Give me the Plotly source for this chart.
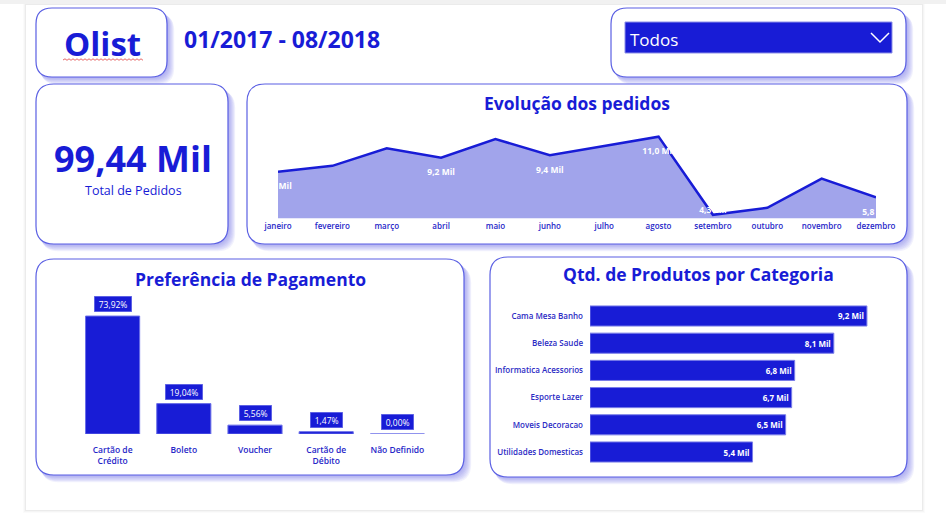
import plotly.graph_objects as go

# ---------------- data ----------------
months = ["janeiro", "fevereiro", "março", "abril", "maio", "junho",
          "julho", "agosto", "setembro", "outubro", "novembro", "dezembro"]
orders_mil = [8.0, 8.5, 10.0, 9.2, 10.8, 9.4, 10.2, 11.0, 4.3, 4.9, 7.4, 5.8]
month_label_pos = {"janeiro": "bottom center", "abril": "bottom center",
                   "junho": "bottom center", "agosto": "bottom center",
                   "setembro": "top center", "dezembro": "bottom center"}

payment_methods = ["Cartão de<br>Crédito", "Boleto", "Voucher",
                   "Cartão de<br>Débito", "Não Definido"]
payment_pct = [73.92, 19.04, 5.56, 1.47, 0.003]  # last one shows as 0,00%

categories = ["Cama Mesa Banho", "Beleza Saude", "Informatica Acessorios",
              "Esporte Lazer", "Moveis Decoracao", "Utilidades Domesticas"]
products_mil = [9.2, 8.1, 6.8, 6.7, 6.5, 5.4]

total_orders_mil = 99.44
period_text = "01/2017 - 08/2018"
filter_text = "Todos"

# ---------------- style ----------------
W, H = 946, 525
BLUE = "#181cd6"
AREA = "#a1a4eb"
BORDER = "#5a5fe3"
FONT = "Open Sans"


def X(px):
    return px / W


def Y(py):
    return 1 - py / H


def rrect(x0, y0, x1, y1, r):
    pts = [
        ("M", (x0 + r, y0)), ("L", (x1 - r, y0)), ("Q", (x1, y0), (x1, y0 + r)),
        ("L", (x1, y1 - r)), ("Q", (x1, y1), (x1 - r, y1)), ("L", (x0 + r, y1)),
        ("Q", (x0, y1), (x0, y1 - r)), ("L", (x0, y0 + r)), ("Q", (x0, y0), (x0 + r, y0)),
    ]
    s = ""
    for p in pts:
        s += p[0] + " " + " ".join(f"{X(a):.5f},{Y(b):.5f}" for a, b in p[1:]) + " "
    return s + "Z"


def fmt(v, dec=1):
    return f"{v:.{dec}f}".replace(".", ",")


shapes = []
annotations = []

# page shadow
for k, a in [(3, 0.015), (2, 0.025), (1, 0.04)]:
    shapes.append(dict(type="rect", xref="paper", yref="paper",
                       x0=X(26 - k), x1=X(922 + k), y0=Y(510 + k), y1=Y(5 - k),
                       line=dict(width=0), fillcolor=f"rgba(0,0,0,{a})", layer="below"))
shapes.append(dict(type="rect", xref="paper", yref="paper", x0=0, x1=1, y0=Y(4), y1=1,
                   line=dict(width=0), fillcolor="#f1f1f1", layer="below"))
shapes.append(dict(type="rect", xref="paper", yref="paper",
                   x0=X(26), x1=X(922), y0=Y(510), y1=Y(5),
                   line=dict(width=0), fillcolor="white", layer="below"))

panels = [(36, 8, 167, 77, 16), (611, 8, 906, 77, 16), (36, 84, 228, 244, 18),
          (247, 84, 907, 244, 18), (36, 259, 464, 475, 18), (490, 257, 907, 477, 18)]
for (x0, y0, x1, y1, r) in panels:
    for k in range(8, 0, -1):
        shapes.append(dict(type="path", xref="paper", yref="paper",
                           path=rrect(x0 + k * 0.6, y0 + k * 0.8, x1 + k * 0.9, y1 + k * 0.9, r),
                           line=dict(width=0), fillcolor="rgba(110,115,235,0.09)", layer="below"))
for (x0, y0, x1, y1, r) in panels:
    shapes.append(dict(type="path", xref="paper", yref="paper", path=rrect(x0, y0, x1, y1, r),
                       line=dict(color=BORDER, width=1.2), fillcolor="white", layer="below"))

# dropdown box + chevron
shapes.append(dict(type="rect", xref="paper", yref="paper", x0=X(625), x1=X(892), y0=Y(53), y1=Y(22),
                   line=dict(color="#8c8fe8", width=1), fillcolor=BLUE, layer="below"))
shapes.append(dict(type="path", xref="paper", yref="paper",
                   path=f"M {X(871)},{Y(33)} L {X(880)},{Y(42)} L {X(889)},{Y(33)}",
                   line=dict(color="white", width=1.5)))

# spell-check wavy underline under "Olist"
wave = f"M {X(63)},{Y(60)}"
xx = 63
up = True
while xx < 142:
    xx += 2
    wave += f" L {X(xx)},{Y(58.8 if up else 60.3)}"
    up = not up
shapes.append(dict(type="path", xref="paper", yref="paper", path=wave,
                   line=dict(color="#e04040", width=0.8)))


def txt(x, y, s, size, color=BLUE, weight="bold", xanchor="center"):
    annotations.append(dict(xref="paper", yref="paper", x=X(x), y=Y(y), text=s, showarrow=False,
                            xanchor=xanchor, yanchor="middle",
                            font=dict(family=FONT, size=size, color=color, weight=weight)))


txt(102, 43, "Olist", 33)
txt(182, 39, period_text, 23, xanchor="left")
txt(628, 40, filter_text, 17, color="white", weight="normal", xanchor="left")
txt(133, 158, fmt(total_orders_mil, 2) + " Mil", 36)
txt(133, 190, "Total de Pedidos", 12.5, weight="normal")
txt(577, 103, "Evolução dos pedidos", 17.5)
txt(250, 279, "Preferência de Pagamento", 17.5)
txt(698, 274, "Qtd. de Produtos por Categoria", 17.5)

fig = go.Figure()

# ---------------- area chart ----------------
area_text = []
for m, v in zip(months, orders_mil):
    pos = month_label_pos.get(m)
    if pos is None:
        area_text.append("")
    elif pos.startswith("bottom"):
        area_text.append("<br>" + fmt(v) + " Mil")
    else:
        area_text.append(fmt(v) + " Mil")
area_pos = [month_label_pos.get(m, "bottom center") for m in months]
fig.add_trace(go.Scatter(
    x=months, y=orders_mil, mode="lines+text", fill="tozeroy", fillcolor=AREA,
    line=dict(color=BLUE, width=2.5), text=area_text, textposition=area_pos,
    textfont=dict(family=FONT, size=8.5, color="white", weight="bold"),
    cliponaxis=True, hoverinfo="skip", xaxis="x", yaxis="y"))

# ---------------- payment bars ----------------
fig.add_trace(go.Bar(
    x=payment_methods, y=payment_pct, marker=dict(color=BLUE, line=dict(color="#6a6ee8", width=1)),
    width=0.76, xaxis="x2", yaxis="y2", hoverinfo="skip"))
for m, v in zip(payment_methods, payment_pct):
    annotations.append(dict(xref="x2", yref="y2", x=m, y=v,
                            text="&nbsp;" + fmt(v, 2) + "%&nbsp;", showarrow=False,
                            yanchor="bottom", yshift=4, bgcolor=BLUE, borderpad=2,
                            bordercolor="#6a6ee8", borderwidth=0.5,
                            font=dict(family=FONT, size=8.5, color="white")))

# ---------------- category bars ----------------
fig.add_trace(go.Bar(
    y=categories, x=products_mil, orientation="h",
    marker=dict(color=BLUE, line=dict(color="#7a7ee8", width=1)), width=0.74,
    text=[fmt(v) + " Mil" for v in products_mil], textposition="inside", insidetextanchor="end",
    textfont=dict(family=FONT, size=8, color="white", weight="bold"),
    xaxis="x3", yaxis="y3", hoverinfo="skip"))

hidden = dict(showgrid=False, zeroline=False, showticklabels=False, showline=False, ticks="",
              automargin=False)

fig.update_layout(
    width=W, height=H, margin=dict(l=0, r=0, t=0, b=0, autoexpand=False), showlegend=False,
    paper_bgcolor="white", plot_bgcolor="rgba(0,0,0,0)",
    font=dict(family=FONT, color=BLUE),
    shapes=shapes, annotations=annotations,
    xaxis=dict(domain=[X(278), X(876)], range=[0, 11], type="category", showgrid=False,
               zeroline=False, showline=False, ticks="", automargin=False, ticklabelstandoff=2,
               tickfont=dict(family=FONT, size=8, color="#2626c8", weight=600)),
    yaxis=dict(domain=[Y(218.3), Y(125)], range=[4.0, 12.0], **hidden),
    xaxis2=dict(domain=[X(77), X(433)], type="category", showgrid=False, zeroline=False,
                showline=False, ticks="", anchor="y2", automargin=False, ticklabelstandoff=9,
                tickfont=dict(family=FONT, size=8.5, color="#2626c8", weight=600)),
    yaxis2=dict(domain=[Y(434), Y(290.4)], range=[0, 90], anchor="x2", **hidden),
    xaxis3=dict(domain=[X(590), X(891)], range=[0, 10], anchor="y3", **hidden),
    yaxis3=dict(domain=[Y(465.6), Y(302.4)], type="category", autorange="reversed", anchor="x3",
                showgrid=False, zeroline=False, showline=False, ticks="", ticklabelstandoff=6,
                automargin=False,
                tickfont=dict(family=FONT, size=8, color="#2b2bc4", weight=600)),
)

fig.write_html("out.html")
